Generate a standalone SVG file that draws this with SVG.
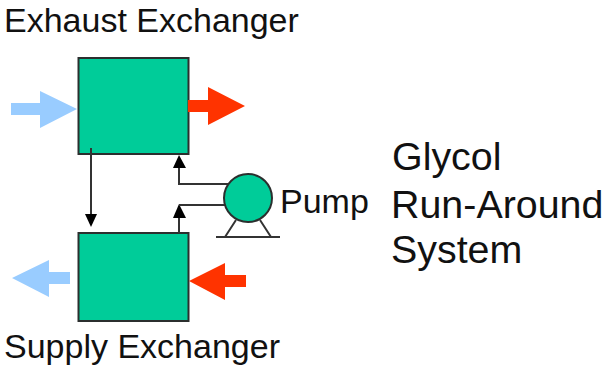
<svg xmlns="http://www.w3.org/2000/svg" width="605" height="367" viewBox="0 0 605 367">
<style>
.box{fill:#00cc99;stroke:#2b2f2e;stroke-width:2}
.pipe{fill:none;stroke:#333;stroke-width:2}
.head{fill:#000}
.blue{fill:#99ccff}
.red{fill:#ff3300}
text{font-family:"Liberation Sans",Arial,sans-serif;fill:#111}
.lbl{font-size:34px}
.big{font-size:39.400px}
</style>
<rect width="605" height="367" fill="#fff"/>
<g id="exhaust-exchanger">
<rect class="box" x="78.500" y="58" width="110" height="96"/>
<text class="lbl" x="4" y="32">Exhaust Exchanger</text>
</g>
<g id="supply-exchanger">
<rect class="box" x="78.500" y="233" width="110" height="88"/>
<text class="lbl" x="4" y="358">Supply Exchanger</text>
</g>
<g id="connectors">
<path class="pipe" d="M91 148V216"/>
<polygon class="head" points="85,214 97,214 91,227"/>
<path class="pipe" d="M179 233V215"/>
<polygon class="head" points="173,218 186,218 179,204"/>
<path class="pipe" d="M179 167V184H228"/>
<polygon class="head" points="173,168 186,168 179,155"/>
<path class="pipe" d="M179 205H226"/>
</g>
<g id="exhaust-in"><polygon class="blue" points="11,103 40,103 40,91 77,109 40,128 40,115 11,115"/></g>
<g id="exhaust-out"><polygon class="red" points="188,100 208,100 208,87 245,106 208,125 208,112 188,112"/></g>
<g id="supply-out"><polygon class="blue" points="70,272 49,272 49,260 12,278 49,297 49,284 70,284"/></g>
<g id="supply-in"><polygon class="red" points="246,275 225,275 225,263 189,281 225,300 225,287 246,287"/></g>
<g id="pump">
<path class="pipe" d="M216 237H280M236 220L225 237M260 220L271 237"/>
<circle class="box" cx="248" cy="198" r="24"/>
<text class="lbl" x="280" y="213">Pump</text>
</g>
<g id="title">
<text class="big" x="392" y="170">Glycol</text>
<text class="big" x="391" y="218">Run-Around</text>
<text class="big" x="391" y="263">System</text>
</g>
</svg>
